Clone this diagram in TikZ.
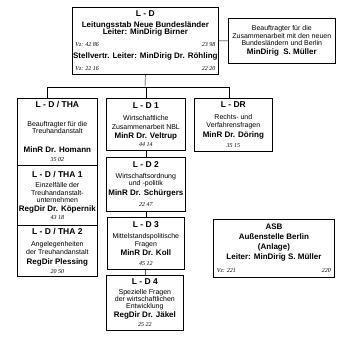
\documentclass[tikz,border=0pt]{standalone}
\usepackage{fontspec}
\setmainfont{Liberation Sans}
\newfontfamily\numfont{Liberation Serif}
\usepackage{tikz}

\newcommand{\unitfont}{\fontsize{7}{7.5}\selectfont\lineskiplimit=-10pt\relax}
\newcommand{\hd}[1]{{\fontsize{8.5}{8}\selectfont\bfseries #1}}
\newcommand{\nm}[1]{{\fontsize{8}{8}\selectfont\bfseries #1}}
\newcommand{\vz}[1]{{\numfont\itshape\fontsize{6}{7}\selectfont #1}}

\begin{document}
\begin{tikzpicture}[x=1pt, y=-1pt,
    unit/.style={draw, line width=0.7pt, anchor=north west, align=center, inner sep=0pt,
        font=\unitfont}]
    \useasboundingbox (0,0) rectangle (341,339);
        % L-D (Leitungsstab)
        \node[unit, minimum width=146pt, minimum height=67pt] (ld) at (72, 7) {\hd{L - D}\\[3.5pt]
            \nm{Leitungsstab Neue Bundesländer}\\[-0.5pt]
            \nm{Leiter: MinDirig Birner}\\[4.5pt]
            \makebox[140pt]{\vz{Vz: 42 86}\hfill\vz{23 98}}\\[4.5pt]
            \nm{Stellvertr. Leiter: MinDirig Dr. Röhling}\\[4.5pt]
            \makebox[140pt]{\vz{Vz: 22 16}\hfill\vz{22 20}}};
        \node[unit, line width=0.6pt, minimum width=107pt, minimum height=45pt] (beauf) at (228, 18) {Beauftragter für die\\[0.5pt]
            Zusammenarbeit mit den neuen\\[-0.5pt]
            Bundesländern und Berlin\\[1.5pt]
            \nm{MinDirig\ \ S. Müller}};
        % Treuhand column
        \node[unit, minimum width=80pt, minimum height=67pt] (tha) at (17, 98) {\hd{L - D / THA}\\[11.5pt]
            Beauftragter für die\\[-0.5pt]
            Treuhandanstalt\\[11.5pt]
            \nm{MinR Dr. Homann}\\[1.5pt]
            \vz{35 02}};
        \node[unit, minimum width=80pt, minimum height=60pt] (tha1) at (17, 165) {\hd{L - D / THA 1}\\[2.5pt]
            Einzelfälle der\\[0.5pt]
            Treuhandanstalt-\\[-0.5pt]
            unternehmen\\[1.5pt]
            \nm{RegDir Dr. Köpernik}\\[0.5pt]
            \vz{43 18}};
        \node[unit, minimum width=80pt, minimum height=51pt] (tha2) at (17, 225) {\hd{L - D / THA 2}\\[4.5pt]
            Angelegenheiten\\[0.5pt]
            der Treuhandanstalt\\[2.5pt]
            \nm{RegDir Plessing}\\[1.5pt]
            \vz{20 50}};
        % L-D 1 to L-D 4
        \node[unit, minimum width=79pt, minimum height=52pt] (d1) at (106, 98) {\hd{L - D 1}\\[4.5pt]
            Wirtschaftliche\\[1.5pt]
            Zusammenarbeit NBL\\[1.5pt]
            \nm{MinR Dr. Veltrup}\\[0.5pt]
            \vz{44 14}};
        \node[unit, minimum width=79pt, minimum height=54pt] (d2) at (106, 157) {\hd{L - D 2}\\[3.5pt]
            Wirtschaftsordnung\\[-0.5pt]
            und -politik\\[2.5pt]
            \nm{MinR Dr. Schürgers}\\[3.5pt]
            \vz{22 47}};
        \node[unit, minimum width=77pt, minimum height=52pt] (d3) at (107, 217) {\hd{L - D 3}\\[3.5pt]
            Mittelstandspolitische\\[0.5pt]
            Fragen\\[1.5pt]
            \nm{MinR Dr. Koll}\\[2.5pt]
            \vz{45 12}};
        \node[unit, minimum width=77pt, minimum height=55pt] (d4) at (106, 275) {\hd{L - D 4}\\[2.5pt]
            Spezielle Fragen\\[-0.5pt]
            der wirtschaftlichen\\[-0.5pt]
            Entwicklung\\[1.5pt]
            \nm{RegDir Dr. Jäkel}\\[1.5pt]
            \vz{25 22}};
        % L-DR
        \node[unit, minimum width=78pt, minimum height=53pt] (dr) at (194, 98) {\hd{L - DR}\\[4.5pt]
            Rechts- und\\[0.5pt]
            Verfahrensfragen\\[2.5pt]
            \nm{MinR Dr. Döring}\\[2.5pt]
            \vz{35 15}};
        % ASB
        \node[unit, line width=0.9pt, minimum width=121pt, minimum height=58pt] (asb) at (213, 219) {\nm{ASB}\\[2.5pt]
            \nm{Außenstelle Berlin}\\[2.5pt]
            \nm{(Anlage)}\\[2.5pt]
            \nm{Leiter: MinDirig S. Müller}\\[5.5pt]
            \makebox[114pt]{\vz{Vz: 221}\hfill\vz{220}}};
        \coordinate (bus) at (145, 87);
        \draw[-] (ld.east) -- (beauf.west);
        \draw[-] (ld.south) -- (bus);
        \draw[-] ([xshift=-10pt]tha.north) -- ([xshift=-10pt]tha.north |- bus) -- ([xshift=-4pt]dr.north |- bus) -- ([xshift=-4pt]dr.north);
        \draw[-] (d1.north) -- (d1.north |- bus);
        \draw[-] (d1) -- (d2);
        \draw[-] (d2) -- (d3);
        \draw[-] (d3) -- (d4);
    \end{tikzpicture}
\end{document}
